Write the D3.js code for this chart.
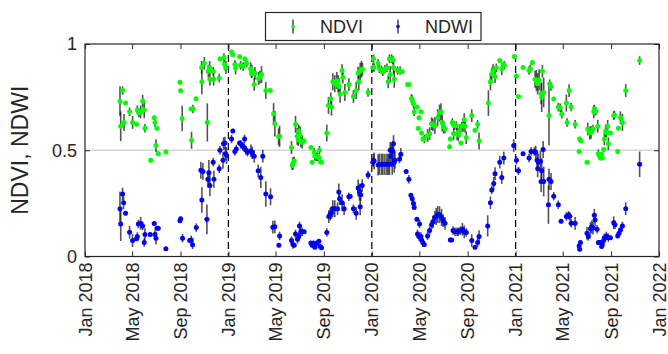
<!DOCTYPE html>
<html>
<head>
<meta charset="utf-8">
<script src="https://cdn.jsdelivr.net/npm/d3@7"></script>
<style>
  body { margin: 0; background: #fff; }
  text { font-family: Arial, "Liberation Sans", sans-serif; fill: #262626; }
</style>
</head>
<body>
<div id="graph"></div>
<script>
// [decimal year, value, error half-length]
var ndvi = [
  [2018.244,0.731,0.07],[2018.249,0.613,0.07],[2018.262,0.781,0.02],[2018.272,0.631,0.04],[2018.283,0.722,0.01],[2018.311,0.681,0.02],[2018.332,0.631,0.03],[2018.360,0.622,0.01],[2018.365,0.691,0.02],[2018.376,0.675,0.02],[2018.388,0.681,0.03],[2018.402,0.731,0.03],[2018.413,0.691,0.04],[2018.418,0.603,0.02],[2018.458,0.453,0.01],[2018.483,0.653,0.01],[2018.488,0.631,0.02],[2018.495,0.522,0.03],[2018.502,0.603,0.01],[2018.511,0.484,0.01],[2018.564,0.492,0.01],
  [2018.662,0.820,0.01],[2018.667,0.780,0.01],[2018.678,0.650,0.06],[2018.739,0.694,0.01],[2018.743,0.547,0.04],[2018.753,0.694,0.02],[2018.774,0.742,0.01],[2018.813,0.890,0.03],[2018.815,0.822,0.06],[2018.832,0.909,0.03],[2018.853,0.631,0.09],[2018.860,0.872,0.03],[2018.869,0.890,0.03],[2018.871,0.834,0.03],[2018.894,0.872,0.02],[2018.897,0.834,0.03],[2018.936,0.840,0.02],[2018.941,0.930,0.01],[2018.969,0.937,0.02],[2018.973,0.906,0.03],[2018.983,0.890,0.03],
  [2019.022,0.962,0.01],[2019.031,0.950,0.01],[2019.045,0.903,0.02],[2019.050,0.887,0.03],[2019.078,0.940,0.01],[2019.085,0.900,0.02],[2019.103,0.894,0.02],[2019.115,0.930,0.01],[2019.127,0.909,0.02],[2019.155,0.884,0.03],[2019.161,0.860,0.02],[2019.164,0.872,0.03],[2019.180,0.810,0.03],[2019.185,0.862,0.03],[2019.210,0.838,0.03],[2019.220,0.844,0.03],[2019.231,0.856,0.04],[2019.261,0.781,0.04],[2019.292,0.781,0.01],[2019.315,0.672,0.05],[2019.324,0.625,0.06],
  [2019.350,0.563,0.04],[2019.357,0.566,0.05],[2019.440,0.513,0.03],[2019.445,0.428,0.02],[2019.450,0.438,0.03],[2019.459,0.450,0.02],[2019.468,0.622,0.04],[2019.480,0.566,0.04],[2019.487,0.550,0.03],[2019.491,0.591,0.03],[2019.500,0.572,0.04],[2019.505,0.544,0.03],[2019.515,0.538,0.03],[2019.528,0.544,0.01],[2019.575,0.513,0.01],[2019.584,0.444,0.01],[2019.598,0.491,0.02],[2019.603,0.472,0.02],[2019.612,0.469,0.02],[2019.621,0.469,0.02],[2019.631,0.466,0.01],[2019.635,0.500,0.02],[2019.640,0.447,0.01],[2019.649,0.444,0.01],
  [2019.686,0.581,0.04],[2019.698,0.711,0.04],[2019.714,0.742,0.03],[2019.719,0.703,0.04],[2019.728,0.822,0.04],[2019.742,0.813,0.04],[2019.756,0.828,0.04],[2019.765,0.813,0.04],[2019.770,0.800,0.04],[2019.779,0.763,0.04],[2019.793,0.875,0.03],[2019.798,0.844,0.03],[2019.812,0.772,0.04],[2019.840,0.809,0.03],[2019.872,0.753,0.03],[2019.891,0.781,0.04],[2019.905,0.863,0.03],[2019.909,0.822,0.04],[2019.919,0.872,0.04],[2019.928,0.881,0.04],[2019.935,0.881,0.03],[2019.974,0.772,0.02],
  [2020.007,0.890,0.02],[2020.012,0.931,0.02],[2020.016,0.890,0.02],[2020.044,0.909,0.02],[2020.053,0.884,0.02],[2020.067,0.878,0.02],[2020.077,0.869,0.02],[2020.091,0.881,0.02],[2020.105,0.888,0.02],[2020.114,0.822,0.03],[2020.123,0.931,0.02],[2020.128,0.856,0.04],[2020.137,0.931,0.02],[2020.146,0.925,0.02],[2020.151,0.890,0.03],[2020.156,0.834,0.04],[2020.179,0.875,0.02],[2020.197,0.875,0.02],[2020.211,0.869,0.01],[2020.249,0.809,0.01],[2020.258,0.809,0.01],[2020.276,0.744,0.02],[2020.281,0.738,0.02],[2020.290,0.719,0.02],[2020.295,0.681,0.02],[2020.314,0.703,0.01],[2020.323,0.603,0.01],[2020.328,0.653,0.01],[2020.342,0.681,0.01],[2020.346,0.581,0.01],[2020.355,0.553,0.01],[2020.365,0.553,0.02],
  [2020.388,0.569,0.03],[2020.402,0.578,0.03],[2020.416,0.625,0.03],[2020.425,0.619,0.03],[2020.439,0.616,0.04],[2020.458,0.653,0.04],[2020.471,0.675,0.04],[2020.481,0.681,0.04],[2020.490,0.628,0.04],[2020.500,0.609,0.03],[2020.509,0.600,0.02],[2020.541,0.516,0.01],[2020.546,0.553,0.01],[2020.560,0.631,0.02],[2020.569,0.578,0.03],[2020.574,0.616,0.02],[2020.588,0.616,0.02],[2020.593,0.578,0.03],[2020.602,0.572,0.03],[2020.611,0.591,0.03],[2020.620,0.534,0.01],[2020.625,0.613,0.02],[2020.634,0.616,0.03],[2020.643,0.644,0.03],[2020.648,0.613,0.03],[2020.657,0.559,0.03],
  [2020.695,0.663,0.03],[2020.718,0.594,0.01],[2020.736,0.622,0.02],[2020.746,0.544,0.04],[2020.811,0.722,0.06],[2020.825,0.822,0.04],[2020.834,0.859,0.03],[2020.843,0.875,0.03],[2020.857,0.847,0.03],[2020.866,0.888,0.02],[2020.890,0.922,0.01],[2020.904,0.884,0.03],[2020.913,0.903,0.01],[2020.922,0.900,0.02],[2020.992,0.941,0.01],
  [2021.006,0.850,0.01],[2021.020,0.753,0.01],[2021.052,0.890,0.01],[2021.094,0.875,0.02],[2021.103,0.884,0.02],[2021.117,0.913,0.01],[2021.136,0.834,0.04],[2021.145,0.828,0.05],[2021.154,0.813,0.05],[2021.164,0.831,0.05],[2021.178,0.766,0.05],[2021.182,0.750,0.07],[2021.187,0.872,0.03],[2021.196,0.772,0.07],[2021.233,0.663,0.14],[2021.238,0.813,0.02],[2021.247,0.800,0.02],[2021.266,0.741,0.01],[2021.298,0.703,0.02],[2021.312,0.700,0.02],[2021.322,0.669,0.02],
  [2021.354,0.722,0.04],[2021.359,0.631,0.02],[2021.373,0.781,0.03],[2021.387,0.703,0.02],[2021.415,0.622,0.02],[2021.443,0.494,0.01],[2021.447,0.553,0.01],[2021.456,0.544,0.01],[2021.498,0.444,0.01],[2021.503,0.600,0.03],[2021.517,0.581,0.03],[2021.526,0.584,0.03],[2021.540,0.600,0.02],[2021.545,0.681,0.03],[2021.549,0.694,0.02],[2021.559,0.684,0.02],[2021.573,0.613,0.03],[2021.577,0.484,0.02],[2021.591,0.463,0.01],[2021.600,0.481,0.01],[2021.605,0.463,0.01],[2021.614,0.503,0.01],[2021.619,0.553,0.03],[2021.628,0.591,0.03],[2021.633,0.581,0.02],[2021.642,0.613,0.03],[2021.647,0.531,0.03],[2021.661,0.581,0.01],[2021.684,0.663,0.02],[2021.689,0.666,0.02],[2021.712,0.494,0.01],[2021.717,0.603,0.01],[2021.731,0.653,0.03],[2021.745,0.631,0.04],[2021.768,0.781,0.03],[2021.865,0.922,0.02]
];

var ndwi = [
  [2018.244,0.225,0.08],[2018.249,0.153,0.08],[2018.262,0.294,0.03],[2018.269,0.253,0.03],[2018.283,0.203,0.01],[2018.311,0.114,0.03],[2018.332,0.075,0.03],[2018.360,0.083,0.01],[2018.365,0.094,0.02],[2018.372,0.153,0.02],[2018.388,0.156,0.03],[2018.402,0.144,0.02],[2018.413,0.066,0.02],[2018.418,0.103,0.03],[2018.455,0.103,0.01],[2018.483,0.155,0.01],[2018.488,0.103,0.02],[2018.495,0.086,0.03],[2018.502,0.133,0.01],[2018.511,0.133,0.01],[2018.564,0.036,0.01],
  [2018.662,0.168,0.01],[2018.667,0.178,0.01],[2018.680,0.086,0.02],[2018.730,0.075,0.01],[2018.741,0.078,0.02],[2018.750,0.055,0.02],[2018.776,0.136,0.02],[2018.808,0.406,0.04],[2018.815,0.266,0.06],[2018.822,0.400,0.04],[2018.850,0.175,0.07],[2018.857,0.363,0.04],[2018.864,0.394,0.06],[2018.871,0.334,0.05],[2018.894,0.444,0.02],[2018.899,0.364,0.04],[2018.936,0.413,0.02],[2018.941,0.500,0.02],[2018.962,0.453,0.04],[2018.966,0.531,0.03],[2018.976,0.534,0.03],[2018.980,0.484,0.03],[2018.987,0.475,0.04],
  [2019.022,0.553,0.02],[2019.031,0.591,0.01],[2019.045,0.494,0.02],[2019.055,0.506,0.02],[2019.078,0.534,0.01],[2019.087,0.528,0.02],[2019.101,0.519,0.02],[2019.110,0.513,0.02],[2019.113,0.553,0.02],[2019.124,0.500,0.02],[2019.133,0.491,0.02],[2019.157,0.497,0.03],[2019.166,0.488,0.03],[2019.180,0.472,0.03],[2019.208,0.403,0.03],[2019.226,0.372,0.05],[2019.240,0.472,0.03],[2019.261,0.294,0.06],[2019.294,0.281,0.04],[2019.310,0.138,0.03],[2019.324,0.140,0.03],
  [2019.352,0.053,0.01],[2019.357,0.097,0.02],[2019.440,0.075,0.02],[2019.450,0.056,0.02],[2019.459,0.053,0.01],[2019.468,0.106,0.02],[2019.482,0.081,0.02],[2019.491,0.094,0.02],[2019.496,0.144,0.02],[2019.505,0.116,0.02],[2019.515,0.116,0.02],[2019.528,0.116,0.01],[2019.575,0.063,0.01],[2019.584,0.053,0.01],[2019.593,0.063,0.01],[2019.603,0.044,0.01],[2019.607,0.056,0.01],[2019.617,0.063,0.01],[2019.631,0.072,0.01],[2019.640,0.047,0.01],[2019.649,0.041,0.01],
  [2019.686,0.113,0.02],[2019.700,0.188,0.03],[2019.710,0.200,0.03],[2019.719,0.206,0.03],[2019.728,0.225,0.04],[2019.742,0.225,0.04],[2019.761,0.225,0.03],[2019.770,0.303,0.04],[2019.775,0.272,0.03],[2019.793,0.253,0.04],[2019.807,0.225,0.03],[2019.840,0.281,0.02],[2019.849,0.284,0.01],[2019.872,0.225,0.02],[2019.891,0.203,0.03],[2019.905,0.322,0.04],[2019.914,0.303,0.04],[2019.919,0.234,0.04],[2019.923,0.291,0.03],[2019.933,0.334,0.03],[2019.974,0.384,0.02],
  [2020.007,0.444,0.02],[2020.012,0.453,0.03],[2020.016,0.450,0.04],[2020.044,0.431,0.05],[2020.053,0.434,0.05],[2020.067,0.434,0.05],[2020.077,0.434,0.05],[2020.091,0.434,0.05],[2020.105,0.434,0.05],[2020.114,0.434,0.05],[2020.123,0.434,0.05],[2020.128,0.500,0.04],[2020.133,0.472,0.04],[2020.137,0.503,0.03],[2020.142,0.434,0.05],[2020.146,0.494,0.05],[2020.151,0.531,0.04],[2020.156,0.444,0.05],[2020.161,0.453,0.04],[2020.193,0.459,0.02],[2020.202,0.481,0.03],[2020.239,0.400,0.01],[2020.258,0.363,0.02],[2020.272,0.288,0.01],[2020.281,0.272,0.02],[2020.290,0.250,0.02],[2020.295,0.231,0.01],[2020.314,0.175,0.01],[2020.318,0.106,0.02],[2020.328,0.094,0.02],[2020.332,0.153,0.02],[2020.342,0.094,0.02],[2020.346,0.078,0.02],[2020.355,0.066,0.02],[2020.365,0.056,0.01],
  [2020.388,0.097,0.02],[2020.402,0.122,0.02],[2020.416,0.150,0.02],[2020.425,0.163,0.03],[2020.439,0.184,0.03],[2020.448,0.188,0.04],[2020.458,0.197,0.04],[2020.471,0.197,0.04],[2020.485,0.184,0.04],[2020.495,0.169,0.03],[2020.509,0.156,0.03],[2020.546,0.078,0.01],[2020.555,0.078,0.01],[2020.565,0.122,0.02],[2020.579,0.116,0.02],[2020.593,0.116,0.02],[2020.602,0.116,0.02],[2020.616,0.122,0.02],[2020.630,0.128,0.03],[2020.643,0.116,0.03],[2020.657,0.113,0.02],
  [2020.695,0.075,0.03],[2020.718,0.044,0.01],[2020.736,0.066,0.02],[2020.746,0.094,0.03],[2020.806,0.144,0.05],[2020.825,0.253,0.03],[2020.834,0.313,0.02],[2020.848,0.344,0.03],[2020.857,0.390,0.03],[2020.890,0.444,0.03],[2020.904,0.372,0.03],[2020.918,0.463,0.03],[2020.987,0.522,0.03],
  [2021.006,0.453,0.02],[2021.020,0.403,0.02],[2021.052,0.484,0.01],[2021.094,0.463,0.02],[2021.108,0.494,0.02],[2021.131,0.494,0.02],[2021.140,0.491,0.03],[2021.150,0.453,0.04],[2021.154,0.413,0.04],[2021.159,0.444,0.04],[2021.173,0.447,0.05],[2021.178,0.353,0.05],[2021.182,0.403,0.06],[2021.192,0.503,0.04],[2021.196,0.353,0.07],[2021.229,0.244,0.09],[2021.233,0.363,0.05],[2021.247,0.353,0.04],[2021.266,0.284,0.02],[2021.298,0.244,0.02],[2021.317,0.166,0.01],
  [2021.354,0.188,0.02],[2021.368,0.194,0.02],[2021.378,0.190,0.02],[2021.387,0.156,0.02],[2021.415,0.156,0.03],[2021.443,0.050,0.01],[2021.447,0.034,0.01],[2021.452,0.066,0.01],[2021.498,0.109,0.03],[2021.508,0.094,0.02],[2021.522,0.131,0.03],[2021.531,0.140,0.03],[2021.540,0.134,0.03],[2021.549,0.194,0.03],[2021.554,0.172,0.03],[2021.568,0.128,0.02],[2021.577,0.066,0.01],[2021.591,0.066,0.01],[2021.600,0.047,0.01],[2021.605,0.056,0.01],[2021.614,0.075,0.01],[2021.619,0.088,0.02],[2021.633,0.097,0.02],[2021.647,0.088,0.02],[2021.661,0.088,0.01],[2021.684,0.159,0.03],[2021.693,0.150,0.02],[2021.712,0.097,0.01],[2021.721,0.109,0.01],[2021.731,0.125,0.02],[2021.745,0.144,0.02],[2021.768,0.225,0.03],[2021.865,0.434,0.06]
];

var seriesNames = [ "NDVI", "NDWI" ];
var seriesColors = [ "#00ff00", "#0000ff" ];
var yTicks = [ 0, 0.5, 1 ];
var yearLines = [ "2019-01-01", "2020-01-01", "2021-01-01" ];
var xDomain = [ "2018-01-01", "2022-01-01" ];

// plot box
var W = 668, H = 354;
var margin = { top: 44, right: 9, bottom: 97.5, left: 85 },
    width = W - margin.left - margin.right,
    height = H - margin.top - margin.bottom;

var parseDate = d3.timeParse( "%Y-%m-%d" ),
    formatTick = d3.timeFormat( "%b %Y" );

// decimal year -> Date
function toDate( t ){
  var yr = Math.floor( t ),
      s = new Date( yr, 0, 1 ),
      e = new Date( yr + 1, 0, 1 );
  return new Date( +s + ( t - yr ) * ( e - s ) );
}

var x = d3.scaleTime().domain( xDomain.map( parseDate ) ).range( [ 0, width ] ),
    y = d3.scaleLinear().domain( [ 0, 1 ] ).range( [ height, 0 ] );

var svg = d3.select( "#graph" ).append( "svg" )
    .attr( "width", W )
    .attr( "height", H );

var g = svg.append( "g" )
    .attr( "transform", "translate(" + margin.left + "," + margin.top + ")" );

// grid line at 0.5
g.append( "line" )
    .attr( "x1", 0 ).attr( "x2", width )
    .attr( "y1", y( 0.5 ) ).attr( "y2", y( 0.5 ) )
    .attr( "stroke", "#d6d6d6" )
    .attr( "stroke-width", 1.5 );

// dashed new-year lines
g.selectAll( ".yearline" )
    .data( yearLines )
  .enter().append( "line" )
    .attr( "x1", function( d ){ return x( parseDate( d ) ); } )
    .attr( "x2", function( d ){ return x( parseDate( d ) ); } )
    .attr( "y1", 0 ).attr( "y2", height )
    .attr( "stroke", "#000" )
    .attr( "stroke-width", 1.2 )
    .attr( "stroke-dasharray", "7,4" );

// error bars + markers
[ ndvi, ndwi ].forEach( function( data, i ){
  var s = g.append( "g" );
  s.selectAll( "line" )
      .data( data )
    .enter().append( "line" )
      .attr( "x1", function( d ){ return x( toDate( d[0] ) ); } )
      .attr( "x2", function( d ){ return x( toDate( d[0] ) ); } )
      .attr( "y1", function( d ){ return y( d[1] - d[2] ); } )
      .attr( "y2", function( d ){ return y( d[1] + d[2] ); } )
      .attr( "stroke", "#1a1a1a" )
      .attr( "stroke-opacity", 0.75 )
      .attr( "stroke-width", 1.6 );
  s.selectAll( "circle" )
      .data( data )
    .enter().append( "circle" )
      .attr( "cx", function( d ){ return x( toDate( d[0] ) ); } )
      .attr( "cy", function( d ){ return y( d[1] ); } )
      .attr( "r", 2.5 )
      .attr( "fill", seriesColors[ i ] );
} );

// axes box
g.append( "rect" )
    .attr( "width", width ).attr( "height", height )
    .attr( "fill", "none" )
    .attr( "stroke", "#262626" )
    .attr( "stroke-width", 1.2 );

var xTicks = d3.timeMonth.every( 4 ).range( x.domain()[0], d3.timeDay.offset( x.domain()[1], 1 ) );

// bottom axis: inward ticks, rotated labels
var xAxis = g.append( "g" )
    .attr( "transform", "translate(0," + height + ")" )
    .call( d3.axisBottom( x ).tickValues( xTicks ).tickSize( -5 ).tickFormat( formatTick ) );
xAxis.select( ".domain" ).remove();
xAxis.selectAll( "line" ).attr( "stroke", "#262626" );
xAxis.selectAll( "text" )
    .attr( "transform", "rotate(-90)" )
    .attr( "x", -6 ).attr( "y", 0 ).attr( "dy", "0.34em" )
    .style( "text-anchor", "end" )
    .style( "font-size", "18px" )
    .attr( "fill", "#262626" );

// top ticks
var xTop = g.append( "g" )
    .call( d3.axisTop( x ).tickValues( xTicks ).tickSize( -5 ).tickFormat( "" ) );
xTop.select( ".domain" ).remove();
xTop.selectAll( "line" ).attr( "stroke", "#262626" );

// left axis
var yAxis = g.append( "g" )
    .call( d3.axisLeft( y ).tickValues( yTicks ).tickSize( -5 ).tickFormat( d3.format( "" ) ) );
yAxis.select( ".domain" ).remove();
yAxis.selectAll( "line" ).attr( "stroke", "#262626" );
yAxis.selectAll( "text" )
    .attr( "x", -8 )
    .style( "font-size", "18px" )
    .attr( "fill", "#262626" );

// right ticks
var yRight = g.append( "g" )
    .attr( "transform", "translate(" + width + ",0)" )
    .call( d3.axisRight( y ).tickValues( yTicks ).tickSize( -5 ).tickFormat( "" ) );
yRight.select( ".domain" ).remove();
yRight.selectAll( "line" ).attr( "stroke", "#262626" );

// y label
svg.append( "text" )
    .attr( "transform", "translate(28," + ( margin.top + height / 2 ) + ") rotate(-90)" )
    .style( "text-anchor", "middle" )
    .style( "font-size", "23px" )
    .text( "NDVI, NDWI" );

// legend
var lg = svg.append( "g" ).attr( "transform", "translate(265.5,12.5)" );
lg.append( "rect" )
    .attr( "width", 215.5 ).attr( "height", 28 )
    .attr( "fill", "#fff" )
    .attr( "stroke", "#262626" )
    .attr( "stroke-width", 1.2 );
var lx = [ 27.5, 132.5 ];
seriesNames.forEach( function( name, i ){
  lg.append( "line" )
      .attr( "x1", lx[ i ] ).attr( "x2", lx[ i ] )
      .attr( "y1", 7 ).attr( "y2", 21 )
      .attr( "stroke", "#1a1a1a" )
      .attr( "stroke-width", 1.2 );
  lg.append( "circle" )
      .attr( "cx", lx[ i ] ).attr( "cy", 14 )
      .attr( "r", 1.8 )
      .attr( "fill", seriesColors[ i ] );
  lg.append( "text" )
      .attr( "x", lx[ i ] + 27 ).attr( "y", 20.5 )
      .style( "font-size", "18px" )
      .text( name );
} );
</script>
</body>
</html>
